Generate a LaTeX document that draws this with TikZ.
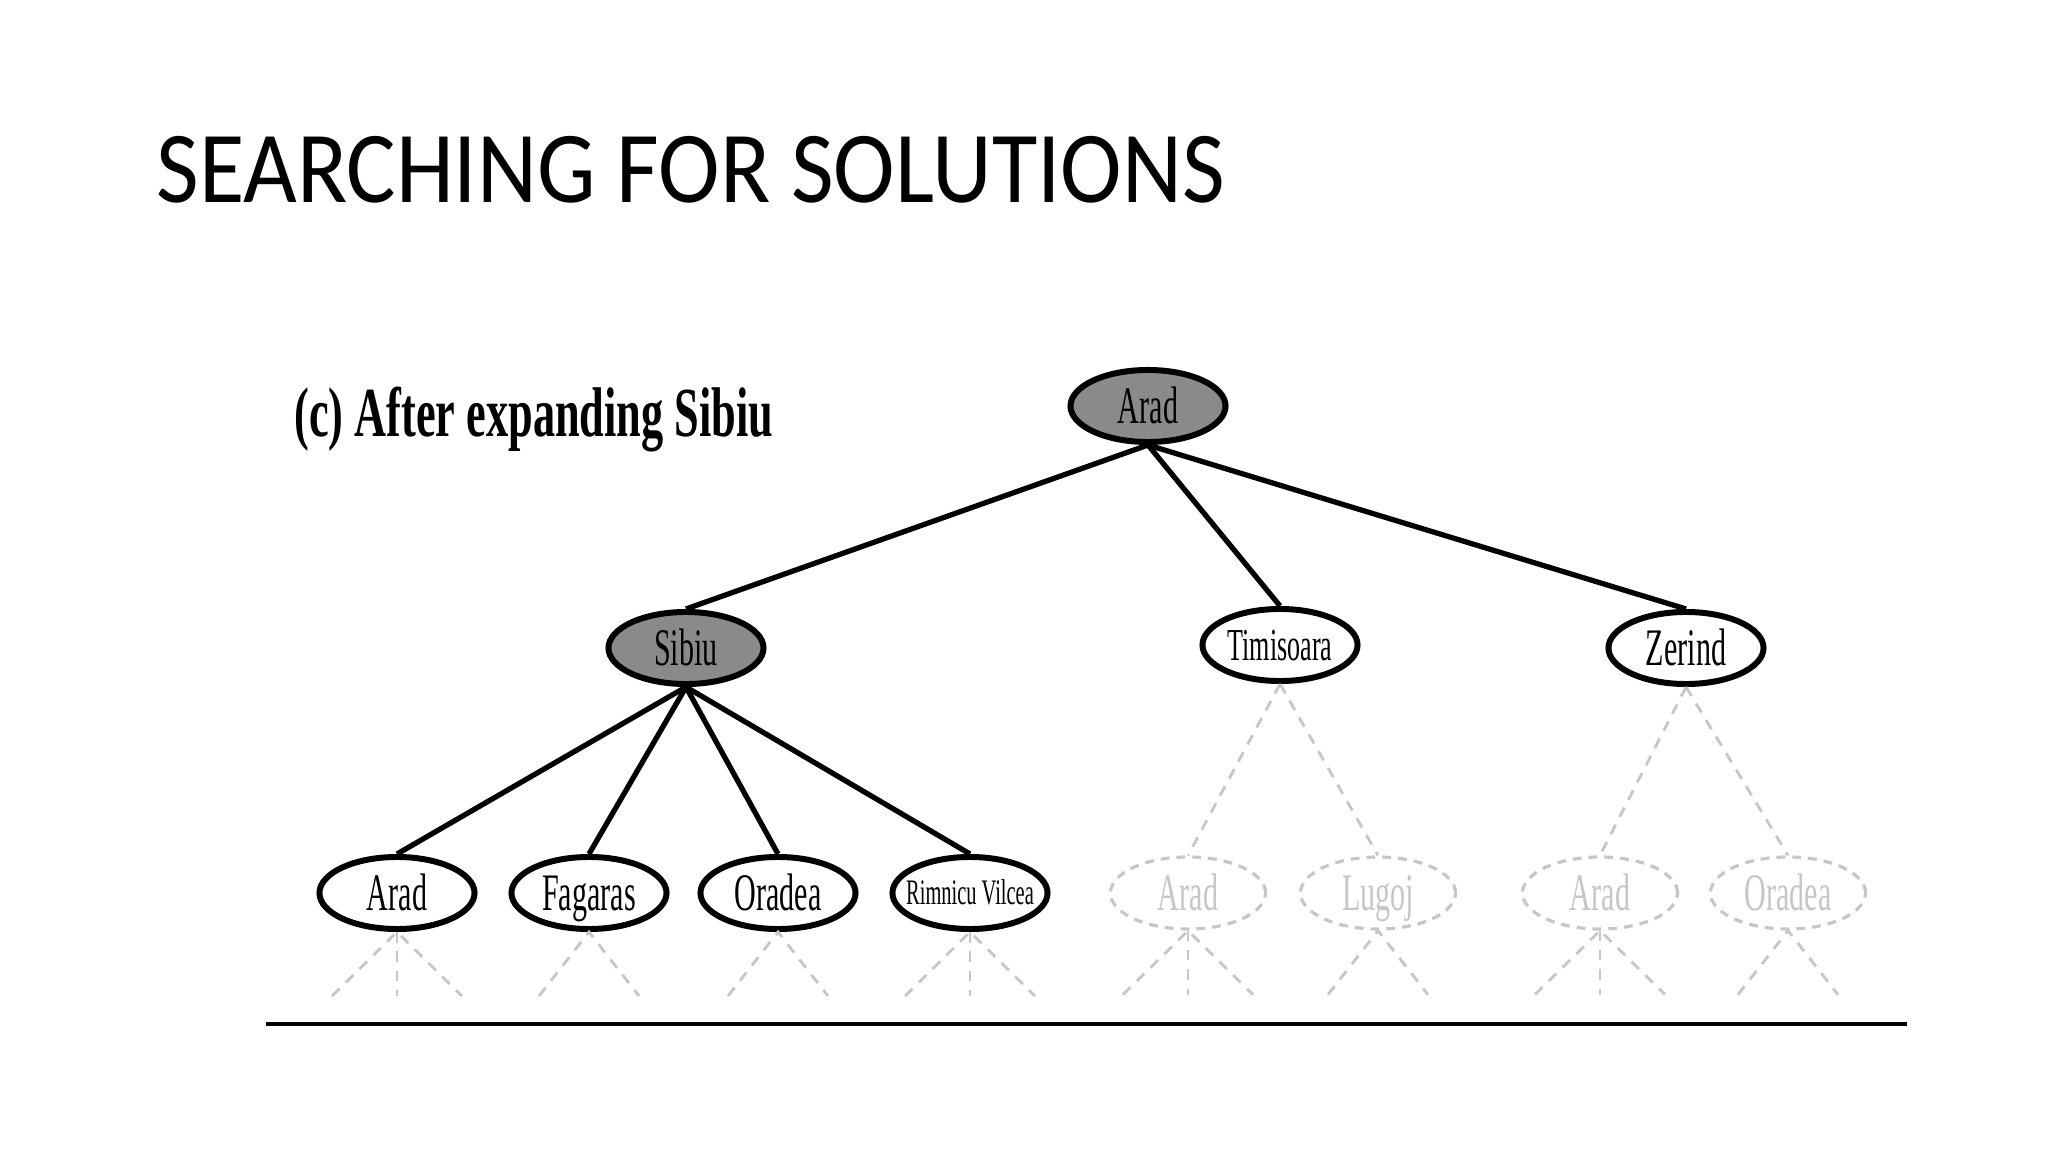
\documentclass[tikz,border=0pt]{standalone}
\usepackage{fontspec}
\setmainfont{Carlito}
\newfontfamily\titlefont[FakeStretch=0.91]{Carlito}
\newfontfamily\treefont[FakeStretch=0.57]{Liberation Serif}
\newfontfamily\capfont[FakeStretch=0.63]{Liberation Serif Bold}
\usetikzlibrary{shapes.geometric}
\definecolor{expanded}{RGB}{138,138,138}
\definecolor{ghost}{RGB}{198,198,198}

\tikzset{
  city/.style={ellipse,draw,line width=1.7pt,minimum width=1.55cm,minimum height=0.72cm,
    inner sep=0pt,text height=10pt,text depth=0pt,font=\treefont\fontsize{15}{15}\selectfont},
  done/.style={city,fill=expanded},
  unseen/.style={city,draw=ghost,text=ghost,line width=0.9pt,dash pattern=on 2.5pt off 2pt},
  link/.style={line width=1.5pt},
  ghostlink/.style={draw=ghost,line width=0.8pt,dash pattern=on 3pt off 2.5pt}
}

\begin{document}
\begin{tikzpicture}[x=0.01cm,y=-0.01cm]
\useasboundingbox (0,0) rectangle (2048,1152);

\node[anchor=west,font=\titlefont\fontsize{29}{29}\selectfont] (title) at (144,170) {SEARCHING FOR SOLUTIONS};
\node[anchor=west,font=\capfont\fontsize{20}{20}\selectfont] (caption) at (282,420) {(c) After expanding Sibiu};

% level 0 and 1
\node[done] (root) at (1148,406) {Arad};
\node[done] (sibiu) at (686,648) {Sibiu};
\node[city,font=\treefont\fontsize{13}{13}\selectfont,text height=8.6pt] (timisoara) at (1280,645) {Timisoara};
\node[city] (zerind) at (1686,648) {Zerind};

% level 2
\node[city] (arad1) at (397,893) {Arad};
\node[city] (fagaras) at (589,893) {Fagaras};
\node[city] (oradea) at (778,893) {Oradea};
\node[city,font=\treefont\fontsize{10.2}{10.2}\selectfont,text height=6.8pt] (rimnicu) at (970,893) {\makebox[0pt]{Rimnicu Vilcea}};
\node[unseen] (arad2) at (1188,893) {Arad};
\node[unseen] (lugoj) at (1378,893) {Lugoj};
\node[unseen] (arad3) at (1600,893) {Arad};
\node[unseen] (oradea2) at (1788,893) {Oradea};

\path[link]
  (root.south) edge (sibiu.north)
  (root.south) edge (timisoara.north)
  (root.south) edge (zerind.north)
  (sibiu.south) edge (arad1.north)
  (sibiu.south) edge (fagaras.north)
  (sibiu.south) edge (oradea.north)
  (sibiu.south) edge (rimnicu.north);
\path[ghostlink]
  (timisoara.south) edge (arad2.north)
  (timisoara.south) edge (lugoj.north)
  (zerind.south) edge (arad3.north)
  (zerind.south) edge (oradea2.north);

% unexpanded successors
\foreach \n in {arad1,rimnicu,arad2,arad3} {
  \path (\n.south) ++(-65,64) coordinate (\n-l) ++(65,0) coordinate (\n-m) ++(65,0) coordinate (\n-r);
  \draw[ghostlink] (\n-l) -- (\n.south) -- (\n-r);
  \draw[ghostlink] (\n.south) -- (\n-m);
}
\foreach \n in {fagaras,oradea,lugoj,oradea2} {
  \path (\n.south) ++(-50,64) coordinate (\n-l) ++(100,0) coordinate (\n-r);
  \draw[ghostlink] (\n-l) -- (\n.south) -- (\n-r);
}

\coordinate (rule-a) at (266,1024);
\coordinate (rule-b) at (1907,1024);
\draw[line width=1.2pt] (rule-a) -- (rule-b);
\end{tikzpicture}
\end{document}
